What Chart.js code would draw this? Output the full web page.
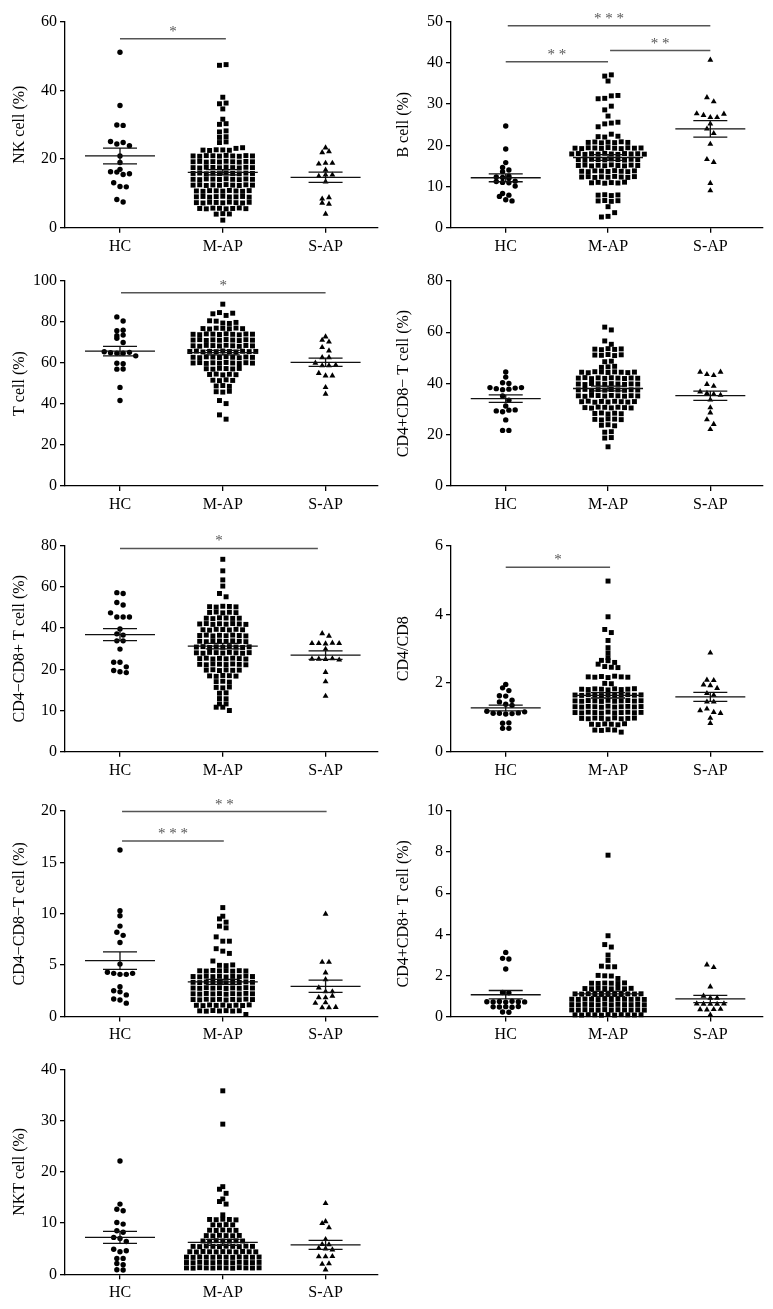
<!DOCTYPE html>
<html><head><meta charset="utf-8">
<script src="https://cdn.jsdelivr.net/npm/chart.js@4.4.1/dist/chart.umd.min.js"></script>
<style>
html,body{margin:0;padding:0;background:#fff;}
#wrap{position:relative;width:773px;height:1309px;overflow:hidden;}
.pane{position:absolute;}
</style></head><body><div id="wrap"></div>
<script>
const CATEGORIES = ['HC', 'M-AP', 'S-AP'];

// ---------- NK cell (%) ----------
const NK_HC = [51.1, 35.6, 29.9, 29.8, 25.1, 24.4, 24.8, 23.9, 20.9, 19.0, 17.0, 16.3, 16.2, 15.5, 15.7, 13.1, 12.0, 11.9, 8.2, 7.5];
const NK_MAP = [2.2,
  3.95, 4.1, 4.0,
  5.6, 5.5, 5.7, 5.65, 5.5, 5.6, 5.75, 5.55,
  7.3, 7.2, 7.4, 7.35, 7.25, 7.45, 7.3, 7.2, 7.4,
  9.0, 9.1, 8.9, 9.05, 9.15, 8.95, 9.0, 9.1, 8.9,
  10.7, 10.6, 10.8, 10.75, 10.65, 10.85, 10.7, 10.6, 10.8,
  12.4, 12.5, 12.3, 12.45, 12.35, 12.55, 12.4, 12.3, 12.5, 12.4,
  14.1, 14.0, 14.2, 14.15, 14.05, 14.25, 14.1, 14.0, 14.2, 14.1,
  15.8, 15.9, 15.7, 15.85, 15.75, 15.95, 15.8, 15.7, 15.9, 15.8,
  17.5, 17.4, 17.6, 17.55, 17.45, 17.65, 17.5, 17.4, 17.6, 17.5,
  19.2, 19.3, 19.1, 19.25, 19.15, 19.35, 19.2, 19.1, 19.3, 19.2,
  20.9, 20.8, 21.0, 20.95, 20.85, 21.05, 20.9, 20.8, 21.0, 20.9,
  22.6, 22.5, 22.7, 22.65, 22.55, 23.1, 23.3,
  24.8, 25.0, 26.3, 26.5, 27.9, 28.2, 30.1, 30.3, 31.6, 34.6, 36.1, 36.3, 38.0, 47.3, 47.5];
const NK_SAP = [23.3, 21.9, 22.2, 18.6, 18.8, 18.8, 16.8, 15.0, 15.4, 15.4, 13.4, 8.4, 8.8, 7.2, 6.9, 4.0];
const NK_TICKS = [0, 20, 40, 60];
const NK_SIG = [{from: 0, to: 1.03, y: 55.0, text: '*'}];

// ---------- B cell (%) ----------
const B_HC = [24.7, 19.1, 15.8, 14.6, 14.0, 13.6, 12.5, 12.3, 12.2, 12.0, 11.3, 11.2, 11.0, 10.9, 10.1, 8.3, 7.9, 7.6, 6.8, 6.5];
const B_MAP = [2.6, 2.75, 3.65,
  5.1,
  6.5, 6.6, 6.4, 6.55,
  7.9, 8.0, 7.8, 7.95,
  10.9, 11.0, 10.8, 10.95, 10.85, 11.05,
  12.3, 12.4, 12.2, 12.35, 12.25, 12.45, 12.3, 12.2, 12.4,
  13.7, 13.6, 13.8, 13.75, 13.65, 13.85, 13.7, 13.6, 13.8,
  15.1, 15.2, 15.0, 15.15, 15.05, 15.25, 15.1, 15.0, 15.2, 15.1,
  16.5, 16.4, 16.6, 16.55, 16.45, 16.65, 16.5, 16.4, 16.6, 16.5,
  17.9, 18.0, 17.8, 17.95, 17.85, 18.05, 17.9, 17.8, 18.0, 17.9, 17.95, 17.85,
  19.3, 19.2, 19.4, 19.35, 19.25, 19.45, 19.3, 19.2, 19.4, 19.3, 19.35,
  20.7, 20.8, 20.6, 20.75, 20.65, 20.85, 20.7,
  22.1, 22.0, 22.7, 22.2,
  24.5, 25.2, 25.4, 25.6, 27.1, 28.6, 29.5, 31.3, 31.4, 32.0, 32.1, 35.6, 36.8, 37.1];
const B_SAP = [40.7, 31.6, 30.6, 27.7, 27.3, 26.8, 26.8, 27.6, 25.2, 24.0, 22.9, 20.3, 16.6, 15.9, 10.8, 9.0];
const B_TICKS = [0, 10, 20, 30, 40, 50];
const B_SIG = [
  {from: 0.02, to: 2.0, y: 49.0, text: '* * *'},
  {from: 0, to: 1.0, y: 40.3, text: '* *'},
  {from: 1.02, to: 2.0, y: 43.0, text: '* *'}];

// ---------- T cell (%) ----------
const T_HC = [82.5, 80.5, 75.7, 76.0, 73.3, 73.6, 72.1, 70.0, 65.5, 65.0, 64.8, 64.8, 65.2, 63.5, 59.9, 59.6, 57.0, 57.1, 48.1, 41.7];
const T_MAP = [88.7, 84.0, 84.6, 83.2, 84.3, 80.6, 80.4, 79.5, 79.3, 79.8,
  76.8, 76.6, 77.0, 76.9, 76.7, 77.05, 76.75,
  74.0, 73.8, 74.2, 74.1, 73.9, 74.25, 74.0, 73.75, 74.15, 74.05,
  71.2, 71.4, 71.0, 71.3, 71.1, 71.45, 71.2, 70.95, 71.35, 71.15,
  68.4, 68.2, 68.6, 68.5, 68.3, 68.65, 68.4, 68.15, 68.55, 68.35,
  65.6, 65.8, 65.4, 65.7, 65.5, 65.85, 65.6, 65.35, 65.75, 65.55, 65.65,
  62.8, 62.6, 63.0, 62.9, 62.7, 63.05, 62.8, 62.55, 62.95, 62.75,
  60.0, 60.2, 59.8, 60.1, 59.9, 60.25, 60.0, 59.75, 60.15, 59.95,
  57.2, 57.0, 57.4, 57.3, 57.1, 57.35,
  54.4, 54.6, 54.2, 54.5, 54.3,
  51.6, 51.4, 51.8, 51.5,
  48.8, 49.0, 48.6,
  46.0, 45.8, 46.2,
  41.7, 40.2, 34.7, 32.6];
const T_SAP = [72.8, 71.2, 70.3, 67.6, 66.0, 62.7, 62.7, 60.0, 58.7, 58.7, 59.0, 55.0, 53.8, 53.8, 48.1, 44.9];
const T_TICKS = [0, 20, 40, 60, 80, 100];
const T_SIG = [{from: 0.01, to: 2.0, y: 94.3, text: '*'}];

// ---------- CD4+CD8- T cell (%) ----------
const CD4_HC = [44.5, 42.5, 40.3, 40.0, 38.4, 38.0, 37.6, 37.8, 38.2, 38.4, 35.1, 33.5, 31.2, 29.3, 29.0, 29.6, 29.7, 25.8, 21.7, 21.7];
const CD4_MAP = [62.0, 60.9, 56.6, 55.3,
  53.4, 53.2, 53.6, 53.3, 53.5,
  51.1, 51.0, 51.3, 50.9, 51.2,
  48.5, 48.7,
  46.3, 46.5, 46.7,
  44.4, 44.2, 44.6, 44.5, 44.3, 44.55, 44.4, 44.25, 44.45,
  42.1, 42.3, 41.9, 42.2, 42.0, 42.25, 42.1, 41.95, 42.15, 42.05,
  39.8, 39.6, 40.0, 39.9, 39.7, 39.95, 39.8, 39.65, 39.85, 39.75,
  37.5, 37.7, 37.3, 37.6, 37.4, 37.65, 37.5, 37.35, 37.55, 37.45,
  35.2, 35.0, 35.4, 35.3, 35.1, 35.35, 35.2, 35.05, 35.25, 35.15,
  32.9, 33.1, 32.7, 33.0, 32.8, 33.05, 32.9, 32.75, 32.95,
  30.6, 30.4, 30.8, 30.7, 30.5, 30.75, 30.6, 30.45,
  28.3, 28.5, 28.1, 28.4, 28.2,
  26.0, 25.8, 26.2, 26.1, 25.9,
  23.7, 23.9, 23.5,
  21.0, 21.2, 18.7, 18.9, 15.3];
const CD4_SAP = [44.5, 43.6, 43.2, 44.5, 39.7, 39.0, 36.8, 36.2, 35.8, 35.5, 33.6, 30.6, 28.6, 25.9, 24.1, 22.1];
const CD4_TICKS = [0, 20, 40, 60, 80];
const CD4_SIG = [];

// ---------- CD4-CD8+ T cell (%) (axis printed 0,10,20,40,60,80 at equal steps) ----------
const CD8_HC = [38.6, 38.4, 36.2, 35.6, 33.7, 32.7, 32.7, 32.7, 29.8, 28.6, 28.3, 26.9, 26.9, 24.9, 21.7, 21.7, 20.6, 19.7, 19.4, 19.2];
const CD8_MAP = [46.7, 43.9, 41.7, 40.2, 38.4, 37.6,
  35.2, 35.1, 35.3, 35.25, 35.15,
  33.8, 33.9, 33.7, 33.85, 33.75,
  32.4, 32.3, 32.5, 32.45, 32.35, 32.4,
  31.0, 31.1, 30.9, 31.05, 30.95, 31.1, 31.0, 30.9,
  29.6, 29.5, 29.7, 29.65, 29.55, 29.7, 29.6,
  28.2, 28.3, 28.1, 28.25, 28.15, 28.3, 28.2, 28.1,
  26.8, 26.7, 26.9, 26.85, 26.75, 26.9, 26.8, 26.7,
  25.4, 25.5, 25.3, 25.45, 25.35, 25.5, 25.4, 25.3, 25.45,
  24.0, 23.9, 24.1, 24.05, 23.95, 24.1, 24.0, 23.9, 24.05,
  22.6, 22.7, 22.5, 22.65, 22.55, 22.7, 22.6, 22.5,
  21.2, 21.1, 21.3, 21.25, 21.15, 21.3, 21.2, 21.1,
  19.8, 19.9, 19.7, 19.85, 19.75, 19.8,
  18.4, 18.3, 18.5, 18.45, 18.35,
  17.0, 17.1, 16.9,
  15.6, 15.5, 15.7,
  14.2, 14.3,
  12.9, 12.85,
  11.6, 11.6, 10.8, 10.8, 10.0];
const CD8_SAP = [28.7, 28.1, 26.3, 26.3, 26.2, 26.4, 26.3, 24.9, 22.5, 22.5, 22.4, 22.6, 22.3, 19.3, 17.0, 13.5];
const CD8_TICKS = [0, 10, 20, 30, 40, 50];
const CD8_TICK_LABELS = ['0', '10', '20', '40', '60', '80'];
const CD8_SIG = [{from: 0.0, to: 1.925, y: 49.35, text: '*'}];

// ---------- CD4/CD8 ----------
const RATIO_HC = [1.96, 1.86, 1.78, 1.63, 1.62, 1.50, 1.45, 1.38, 1.35, 1.18, 1.12, 1.12, 1.10, 1.11, 1.13, 1.16, 0.83, 0.84, 0.68, 0.68];
const RATIO_MAP = [4.97, 3.93, 3.56, 3.47, 3.24, 3.03, 2.88, 2.74, 2.66, 2.65, 2.60, 2.55, 2.48, 2.46, 2.45,
  2.18, 2.17, 2.19, 2.16, 2.20, 2.18, 2.17,
  1.99, 1.98,
  1.82, 1.81, 1.83, 1.82, 1.80, 1.83, 1.81, 1.82, 1.835,
  1.65, 1.64, 1.66, 1.65, 1.635, 1.665, 1.64, 1.65, 1.66, 1.645, 1.655,
  1.48, 1.47, 1.49, 1.48, 1.465, 1.495, 1.47, 1.48, 1.49, 1.475, 1.485,
  1.31, 1.30, 1.32, 1.31, 1.295, 1.325, 1.30, 1.31, 1.32, 1.305, 1.315,
  1.14, 1.13, 1.15, 1.14, 1.125, 1.155, 1.13, 1.14, 1.15, 1.135, 1.145,
  0.97, 0.96, 0.98, 0.97, 0.955, 0.985, 0.96, 0.97, 0.98,
  0.80, 0.79, 0.81, 0.80, 0.785, 0.815,
  0.63, 0.62, 0.64, 0.63,
  0.57];
const RATIO_SAP = [2.88, 2.09, 2.08, 1.95, 1.93, 1.85, 1.70, 1.65, 1.45, 1.45, 1.20, 1.25, 1.15, 1.12, 0.98, 0.83];
const RATIO_TICKS = [0, 2, 4, 6];
const RATIO_SIG = [{from: 0, to: 1.02, y: 5.37, text: '*'}];

// ---------- CD4-CD8- T cell (%) ----------
const DN_HC = [16.2, 10.3, 9.8, 8.8, 8.2, 7.9, 7.2, 5.1, 4.3, 4.2, 4.1, 4.1, 4.2, 2.9, 2.5, 2.4, 2.1, 1.7, 1.6, 1.3];
const DN_MAP = [10.6, 9.76, 9.5, 9.18, 8.79, 8.63, 7.75, 7.33, 7.33, 6.6, 6.36, 6.14, 5.4, 4.98, 4.95, 5.02,
  4.45, 4.42, 4.48, 4.44, 4.47, 4.41, 4.46, 4.43,
  3.89, 3.86, 3.92, 3.88, 3.91, 3.85, 3.90, 3.87, 3.93, 3.89,
  3.33, 3.30, 3.36, 3.32, 3.35, 3.29, 3.34, 3.31, 3.37, 3.33,
  2.77, 2.74, 2.80, 2.76, 2.79, 2.73, 2.78, 2.75, 2.81, 2.77,
  2.21, 2.18, 2.24, 2.20, 2.23, 2.17, 2.22, 2.19, 2.25, 2.21,
  1.65, 1.62, 1.68, 1.64, 1.67, 1.61, 1.66, 1.63, 1.69, 1.65,
  1.09, 1.06, 1.12, 1.08, 1.11, 1.05, 1.10, 1.07, 1.13,
  0.55, 0.52, 0.58, 0.54, 0.57, 0.53, 0.56,
  0.2];
const DN_SAP = [9.98, 5.3, 5.3, 4.26, 3.6, 2.8, 2.42, 2.42, 1.85, 1.84, 2.0, 1.35, 1.3, 0.87, 0.87, 0.9];
const DN_TICKS = [0, 5, 10, 15, 20];
const DN_SIG = [
  {from: 0.02, to: 1.01, y: 17.09, text: '* * *'},
  {from: 0.02, to: 2.01, y: 19.94, text: '* *'}];

// ---------- CD4+CD8+ T cell (%) ----------
const DP_HC = [3.12, 2.83, 2.80, 2.31, 1.17, 1.15, 0.72, 0.71, 0.73, 0.70, 0.74, 0.72, 0.71, 0.47, 0.46, 0.48, 0.45, 0.49, 0.22, 0.21];
const DP_MAP = [7.85, 3.93, 3.50, 3.38, 2.99, 2.73, 2.45, 2.42, 2.42, 2.00, 1.98, 1.97, 1.85,
  1.62, 1.61, 1.63, 1.62, 1.605, 1.635,
  1.36, 1.35, 1.37, 1.36, 1.345, 1.375, 1.35, 1.37,
  1.10, 1.09, 1.11, 1.10, 1.085, 1.115, 1.09, 1.11, 1.10, 1.095, 1.105,
  0.84, 0.83, 0.85, 0.84, 0.825, 0.855, 0.83, 0.85, 0.84, 0.835, 0.845, 0.83,
  0.58, 0.57, 0.59, 0.58, 0.565, 0.595, 0.57, 0.59, 0.58, 0.575, 0.585, 0.57,
  0.32, 0.31, 0.33, 0.32, 0.305, 0.335, 0.31, 0.33, 0.32, 0.315, 0.325, 0.31,
  0.08, 0.07, 0.09, 0.08, 0.065, 0.095, 0.07, 0.09, 0.08, 0.075, 0.085];
const DP_SAP = [2.52, 2.39, 1.45, 1.00, 0.90, 0.90, 0.62, 0.61, 0.60, 0.60, 0.62, 0.34, 0.33, 0.35, 0.36, 0.08];
const DP_TICKS = [0, 2, 4, 6, 8, 10];
const DP_SIG = [];

// ---------- NKT cell (%) ----------
const NKT_HC = [22.1, 13.7, 12.7, 12.4, 10.1, 9.8, 8.5, 8.2, 7.2, 7.0, 6.4, 4.9, 4.4, 4.6, 3.1, 3.1, 2.1, 1.85, 0.9, 0.85];
const NKT_MAP = [35.8, 29.3, 17.1, 16.6, 15.8, 14.7, 14.2, 13.7, 11.6,
  10.7, 10.65, 10.75, 10.7, 10.62,
  9.65, 9.6, 9.7, 9.65,
  8.6, 8.55, 8.65, 8.6, 8.57,
  7.55, 7.5, 7.6, 7.55, 7.52, 7.58,
  6.5, 6.45, 6.55, 6.5, 6.47, 6.53, 6.5,
  5.45, 5.4, 5.5, 5.45, 5.42, 5.48, 5.45, 5.4, 5.5, 5.45,
  4.4, 4.35, 4.45, 4.4, 4.37, 4.43, 4.4, 4.35, 4.45, 4.4, 4.38,
  3.35, 3.3, 3.4, 3.35, 3.32, 3.38, 3.35, 3.3, 3.4, 3.35, 3.33, 3.37,
  2.3, 2.25, 2.35, 2.3, 2.27, 2.33, 2.3, 2.25, 2.35, 2.3, 2.28, 2.32,
  1.25, 1.2, 1.3, 1.25, 1.22, 1.28, 1.25, 1.2, 1.3, 1.25, 1.23, 1.27];
const NKT_SAP = [13.85, 10.3, 9.95, 9.1, 6.83, 5.85, 5.8, 5.1, 5.0, 4.8, 3.45, 3.45, 3.5, 2.0, 2.1, 0.9];
const NKT_TICKS = [0, 10, 20, 30, 40];
const NKT_SIG = [];

// ---------- layout ----------
const ROW_BOX = [
  {cy: 0, ch: 262, t: 21.7, b: 227.7},
  {cy: 262, ch: 258, t: 281, b: 486},
  {cy: 520, ch: 265, t: 545.7, b: 751.7},
  {cy: 785, ch: 265, t: 811, b: 1016.5},
  {cy: 1050, ch: 259, t: 1069.3, b: 1274.3}];
const COL_BOX = [
  {cx: 0, cw: 386, l: 65, r: 378, titleX: 19.5},
  {cx: 386, cw: 387, l: 451, r: 762.5, titleX: 404}];
const X_MIN = -0.535, X_MAX = 2.51;
const FONT = '"Liberation Serif", "Times New Roman", serif';

const PANELS = [
  {title: 'NK cell (%)', groups: [NK_HC, NK_MAP, NK_SAP], ticks: NK_TICKS, labels: null, sig: NK_SIG, row: 0, col: 0},
  {title: 'B cell (%)', groups: [B_HC, B_MAP, B_SAP], ticks: B_TICKS, labels: null, sig: B_SIG, row: 0, col: 1},
  {title: 'T cell (%)', groups: [T_HC, T_MAP, T_SAP], ticks: T_TICKS, labels: null, sig: T_SIG, row: 1, col: 0},
  {title: 'CD4+CD8\u2212 T cell (%)', groups: [CD4_HC, CD4_MAP, CD4_SAP], ticks: CD4_TICKS, labels: null, sig: CD4_SIG, row: 1, col: 1},
  {title: 'CD4\u2212CD8+ T cell (%)', groups: [CD8_HC, CD8_MAP, CD8_SAP], ticks: CD8_TICKS, labels: CD8_TICK_LABELS, sig: CD8_SIG, row: 2, col: 0},
  {title: 'CD4/CD8', groups: [RATIO_HC, RATIO_MAP, RATIO_SAP], ticks: RATIO_TICKS, labels: null, sig: RATIO_SIG, row: 2, col: 1},
  {title: 'CD4\u2212CD8\u2212T cell (%)', groups: [DN_HC, DN_MAP, DN_SAP], ticks: DN_TICKS, labels: null, sig: DN_SIG, row: 3, col: 0},
  {title: 'CD4+CD8+ T cell (%)', groups: [DP_HC, DP_MAP, DP_SAP], ticks: DP_TICKS, labels: null, sig: DP_SIG, row: 3, col: 1},
  {title: 'NKT cell (%)', groups: [NKT_HC, NKT_MAP, NKT_SAP], ticks: NKT_TICKS, labels: null, sig: NKT_SIG, row: 4, col: 0}];

const STYLES = [
  {pointStyle: 'circle', radius: 2.7, pitch: 6.3},
  {pointStyle: 'rect', radius: 3.5, pitch: 6.6},
  {pointStyle: 'triangle', radius: 3.4, pitch: 6.8}];

function swarm(values, ci, yPerPx, xPerPx, pitchPx) {
  const binH = 4.8 * yPerPx, pitch = pitchPx * xPerPx;
  const idx = values.map((v, i) => i).sort((a, b) => values[a] - values[b] || a - b);
  const pts = [];
  let i = 0;
  while (i < idx.length) {
    const start = values[idx[i]];
    let j = i;
    while (j < idx.length && values[idx[j]] - start < binH - 1e-9) j++;
    const members = idx.slice(i, j).sort((a, b) => a - b);
    const n = members.length;
    members.forEach((m, k) => pts.push({x: ci + (k - (n - 1) / 2) * pitch, y: values[m]}));
    i = j;
  }
  return pts;
}

function stats(v) {
  const n = v.length;
  const m = v.reduce((a, b) => a + b, 0) / n;
  const sd = Math.sqrt(v.reduce((a, b) => a + (b - m) * (b - m), 0) / (n - 1));
  return {m, sem: sd / Math.sqrt(n)};
}

function overlayPlugin(panel) {
  return {
    id: 'overlay',
    afterDatasetsDraw(chart) {
      const {ctx, scales: {x, y}} = chart;
      ctx.save();
      ctx.strokeStyle = '#111';
      ctx.lineWidth = 1.3;
      panel.groups.forEach((vals, ci) => {
        const {m, sem} = stats(vals);
        const cx = x.getPixelForValue(ci);
        const ym = y.getPixelForValue(m), yh = y.getPixelForValue(m + sem), yl = y.getPixelForValue(m - sem);
        ctx.beginPath();
        ctx.moveTo(cx - 35, ym); ctx.lineTo(cx + 35, ym);
        ctx.moveTo(cx - 17, yh); ctx.lineTo(cx + 17, yh);
        ctx.moveTo(cx - 17, yl); ctx.lineTo(cx + 17, yl);
        ctx.moveTo(cx, yh); ctx.lineTo(cx, yl);
        ctx.stroke();
      });
      ctx.strokeStyle = '#555';
      ctx.fillStyle = '#555';
      ctx.lineWidth = 1.5;
      ctx.font = '15px ' + FONT;
      ctx.textAlign = 'center';
      ctx.textBaseline = 'alphabetic';
      panel.sig.forEach(s => {
        const x1 = x.getPixelForValue(s.from), x2 = x.getPixelForValue(s.to), yy = y.getPixelForValue(s.y);
        ctx.beginPath(); ctx.moveTo(x1, yy); ctx.lineTo(x2, yy); ctx.stroke();
        ctx.fillText(s.text, (x1 + x2) / 2, yy - 3);
      });
      ctx.restore();
    }
  };
}

Chart.defaults.font.family = FONT;
Chart.defaults.color = '#000';

const wrap = document.getElementById('wrap');
PANELS.forEach(panel => {
  const rb = ROW_BOX[panel.row], cb = COL_BOX[panel.col];
  const box = {cx: cb.cx, cw: cb.cw, cy: rb.cy, ch: rb.ch, l: cb.l, r: cb.r, t: rb.t, b: rb.b, titleX: cb.titleX};
  const div = document.createElement('div');
  div.className = 'pane';
  div.style.left = box.cx + 'px'; div.style.top = box.cy + 'px';
  div.style.width = box.cw + 'px'; div.style.height = box.ch + 'px';
  const canvas = document.createElement('canvas');
  canvas.width = box.cw; canvas.height = box.ch;
  canvas.style.width = box.cw + 'px'; canvas.style.height = box.ch + 'px';
  div.appendChild(canvas);
  wrap.appendChild(div);

  const yMin = panel.ticks[0], yMax = panel.ticks[panel.ticks.length - 1];
  const yPerPx = (yMax - yMin) / (box.b - box.t);
  const xPerPx = (X_MAX - X_MIN) / (box.r - box.l);

  const datasets = panel.groups.map((vals, ci) => ({
    data: swarm(vals, ci, yPerPx, xPerPx, STYLES[ci].pitch),
    pointStyle: STYLES[ci].pointStyle,
    pointRadius: STYLES[ci].radius,
    pointHoverRadius: STYLES[ci].radius,
    pointBackgroundColor: '#000',
    pointBorderColor: '#000',
    pointBorderWidth: 0,
    showLine: false,
    clip: false
  }));

  const gridOpts = {display: true, drawOnChartArea: false, drawTicks: true, tickLength: 5, color: '#000', lineWidth: 1.3};
  const borderOpts = {display: true, color: '#000', width: 1.3};

  new Chart(canvas, {
    type: 'scatter',
    data: {datasets},
    plugins: [overlayPlugin(panel)],
    options: {
      responsive: false,
      animation: false,
      events: [],
      layout: {padding: {left: 0, top: box.t - box.cy, right: box.cx + box.cw - box.r, bottom: 0}},
      plugins: {legend: {display: false}, tooltip: {enabled: false}},
      scales: {
        x: {
          type: 'linear', min: X_MIN, max: X_MAX,
          afterBuildTicks: s => { s.ticks = [0, 1, 2].map(v => ({value: v})); },
          afterFit: s => { s.height = box.cy + box.ch - box.b; },
          grid: gridOpts, border: borderOpts,
          ticks: {callback: v => CATEGORIES[v], color: '#000', font: {size: 16, family: FONT}, padding: 4, autoSkip: false, maxRotation: 0}
        },
        y: {
          type: 'linear', min: yMin, max: yMax,
          afterBuildTicks: s => { s.ticks = panel.ticks.map(v => ({value: v})); },
          afterFit: s => { s.width = box.l - box.cx; },
          grid: gridOpts, border: borderOpts,
          ticks: {callback: (v, i) => panel.labels ? panel.labels[i] : String(v), color: '#000', font: {size: 16, family: FONT}, padding: 3, autoSkip: false},
          title: {display: true, text: panel.title, color: '#000', font: {size: 16, family: FONT}, padding: {top: box.titleX - box.cx - 9.6, bottom: 0}}
        }
      }
    }
  });
});
</script>
</body></html>
